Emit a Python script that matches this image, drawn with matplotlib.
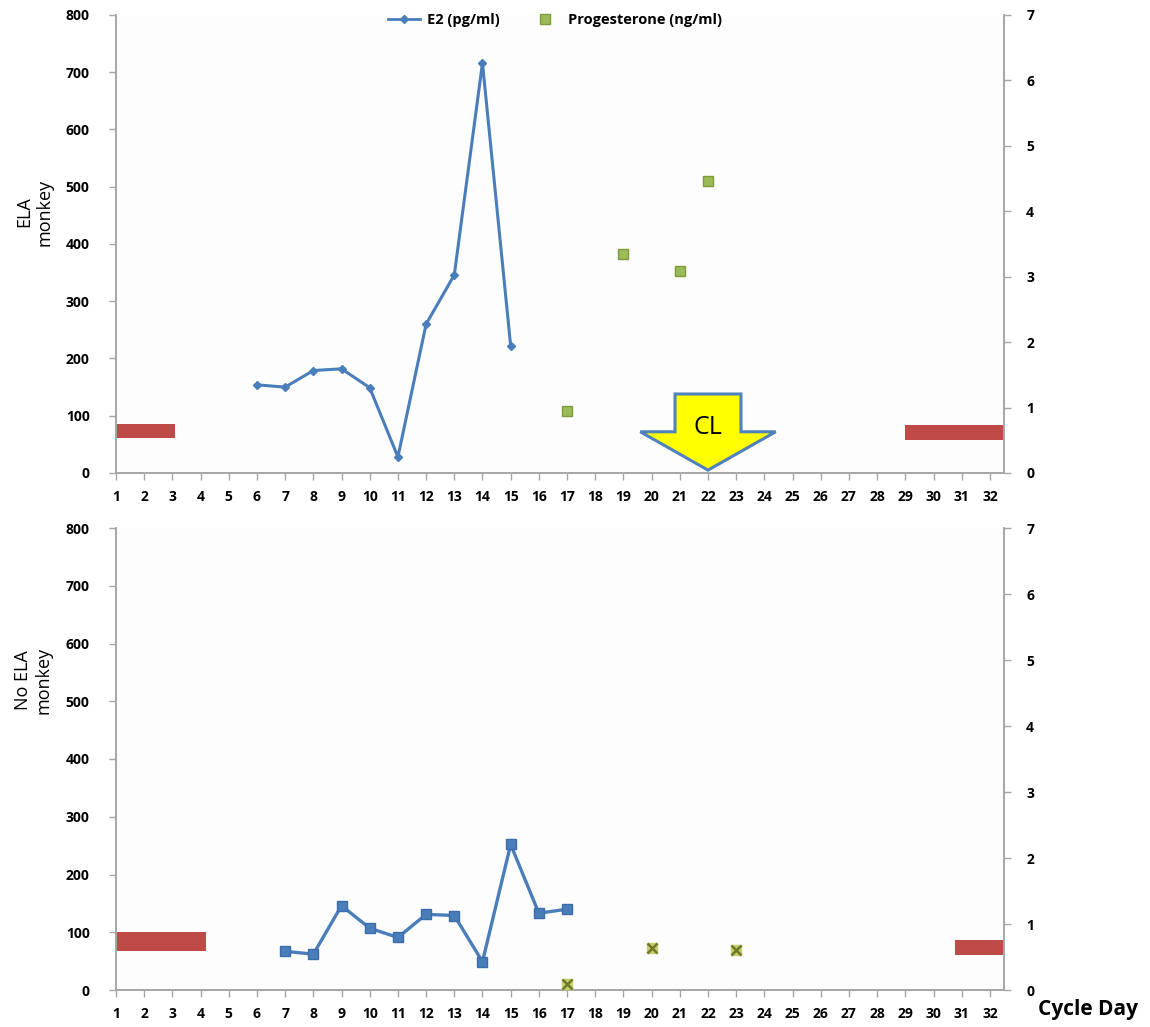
import matplotlib
matplotlib.use("Agg")
import matplotlib.pyplot as plt
from matplotlib.patches import Polygon
from matplotlib.lines import Line2D

# ---------------- data ----------------
days = list(range(1, 33))
day_labels = [str(d) for d in days]

top_e2_days = [6, 7, 8, 9, 10, 11, 12, 13, 14, 15]
top_e2 = [154, 150, 179, 182, 149, 28, 260, 346, 716, 222]
top_p4_days = [17, 19, 21, 22]
top_p4 = [0.94, 3.34, 3.09, 4.47]

bot_e2_days = [7, 8, 9, 10, 11, 12, 13, 14, 15, 16, 17]
bot_e2 = [67, 62, 146, 107, 91, 131, 129, 49, 252, 133, 140]
bot_p4_days = [17, 20, 23]
bot_p4 = [0.09, 0.63, 0.61]

# menses bars (day start/end, E2-scale low/high)
top_men_start = [1, 29.0]
top_men_end = [3.1, 32.5]
top_men_low = [61, 57]
top_men_high = [85, 84]
bot_men_start = [1, 30.75]
bot_men_end = [4.18, 32.5]
bot_men_low = [67, 61]
bot_men_high = [100, 87]

e2_ticks = [0, 100, 200, 300, 400, 500, 600, 700, 800]
p4_ticks = [0, 1, 2, 3, 4, 5, 6, 7]

# ---------------- style ----------------
BLUE = "#4A7EBB"
OLIVE = "#9BBB59"
OLIVE_EDGE = "#7F9A3A"
RED = "#BE4B48"
GRAY = "#A6A6A6"
plt.rcParams["font.family"] = ["Open Sans", "DejaVu Sans"]
plt.rcParams["font.weight"] = "bold"

W, H = 1150, 1027
fig = plt.figure(figsize=(W / 100, H / 100), dpi=100)
fig.patch.set_facecolor("white")


def fx(px):
    return px / W


def fy(py):
    return 1 - py / H


def setup(ax, axr):
    ax.set_xlim(1, 32.5)
    ax.set_ylim(0, 800)
    axr.set_ylim(0, 7)
    ax.set_xticks(days)
    ax.set_xticklabels(day_labels)
    ax.set_yticks(e2_ticks)
    axr.set_yticks(p4_ticks)
    for a in (ax, axr):
        a.spines["top"].set_visible(False)
        for s in ("left", "right", "bottom"):
            a.spines[s].set_color(GRAY)
            a.spines[s].set_linewidth(1.2)
        a.tick_params(axis="both", colors=GRAY, length=5, width=1, direction="out",
                      labelcolor="black", labelsize=10)
    ax.tick_params(axis="y", pad=14)
    axr.tick_params(axis="y", pad=11)
    ax.tick_params(axis="x", pad=7)
    ax.set_facecolor("#FDFDFD")


# ---------------- top panel ----------------
ax1 = fig.add_axes([fx(116), fy(473), fx(1004 - 116), (473 - 15) / H])
ax1r = ax1.twinx()
setup(ax1, ax1r)

ax1.bar(top_men_start, [h - l for h, l in zip(top_men_high, top_men_low)],
        width=[e - s for e, s in zip(top_men_end, top_men_start)],
        bottom=top_men_low, align="edge", color=RED, edgecolor=RED, linewidth=0, zorder=2)
ax1.plot(top_e2_days, top_e2, color=BLUE, lw=2.2, marker="D", ms=4.5,
         mfc=BLUE, mec=BLUE, zorder=3)
ax1r.plot(top_p4_days, top_p4, ls="none", marker="s", ms=7.5, mfc=OLIVE,
          mec=OLIVE_EDGE, mew=1, zorder=3)

# CL arrow (annotation shape, data coords of the E2 axis)
cl_day = 22
body_half = 1.17
wing_half = 2.4
body_top, wing_y, tip_y = 138, 72, 5
arrow = Polygon([(cl_day - body_half, body_top), (cl_day + body_half, body_top),
                 (cl_day + body_half, wing_y), (cl_day + wing_half, wing_y),
                 (cl_day, tip_y), (cl_day - wing_half, wing_y),
                 (cl_day - body_half, wing_y)], closed=True,
                facecolor="#FFFF00", edgecolor="#4F81BD", lw=2.2, zorder=5,
                clip_on=False, joinstyle="miter")
ax1r.add_patch(arrow)
arrow.set_transform(ax1.transData)
ax1r.text(cl_day, 80, "CL", ha="center", va="center", fontsize=18,
          fontweight="normal", zorder=6, transform=ax1.transData)

fig.text(fx(34), fy(212), "ELA\nmonkey", rotation=90, ha="center", va="center",
         fontsize=13, fontweight="normal", linespacing=1.15)

# ---------------- bottom panel ----------------
ax2 = fig.add_axes([fx(116), fy(990), fx(1004 - 116), (990 - 528) / H])
ax2r = ax2.twinx()
setup(ax2, ax2r)

ax2.bar(bot_men_start, [h - l for h, l in zip(bot_men_high, bot_men_low)],
        width=[e - s for e, s in zip(bot_men_end, bot_men_start)],
        bottom=bot_men_low, align="edge", color=RED, edgecolor=RED, linewidth=0, zorder=2)
ax2.plot(bot_e2_days, bot_e2, color=BLUE, lw=2.4, marker="s", ms=7,
         mfc=BLUE, mec="#3A6DAA", zorder=3)
ax2r.plot(bot_p4_days, bot_p4, ls="none", marker="s", ms=7, mfc="#C8CE6A",
          mec="#C8CE6A", zorder=3)
ax2r.plot(bot_p4_days, bot_p4, ls="none", marker="x", ms=6.5, mec="#6E7A2A",
          mew=1.8, zorder=4)

fig.text(fx(33), fy(680), "No ELA\nmonkey", rotation=90, ha="center", va="center",
         fontsize=13, fontweight="normal", linespacing=1.15)
fig.text(fx(1088), fy(1010), "Cycle Day", ha="center", va="center",
         fontsize=15, fontweight="bold")

# ---------------- legend ----------------
handles = [Line2D([], [], color=BLUE, lw=2, marker="D", ms=4.5),
           Line2D([], [], ls="none", marker="s", ms=7, mfc=OLIVE, mec=OLIVE_EDGE)]
leg = fig.legend(handles, ["E2 (pg/ml)", "Progesterone (ng/ml)"], loc="center",
                 bbox_to_anchor=(fx(555), fy(20)), ncol=2, frameon=False,
                 prop={"weight": "bold", "size": 10.5},
                 handlelength=2.2, columnspacing=2.0, handletextpad=0.5)

fig.savefig("out.png", dpi=100, facecolor="white")
